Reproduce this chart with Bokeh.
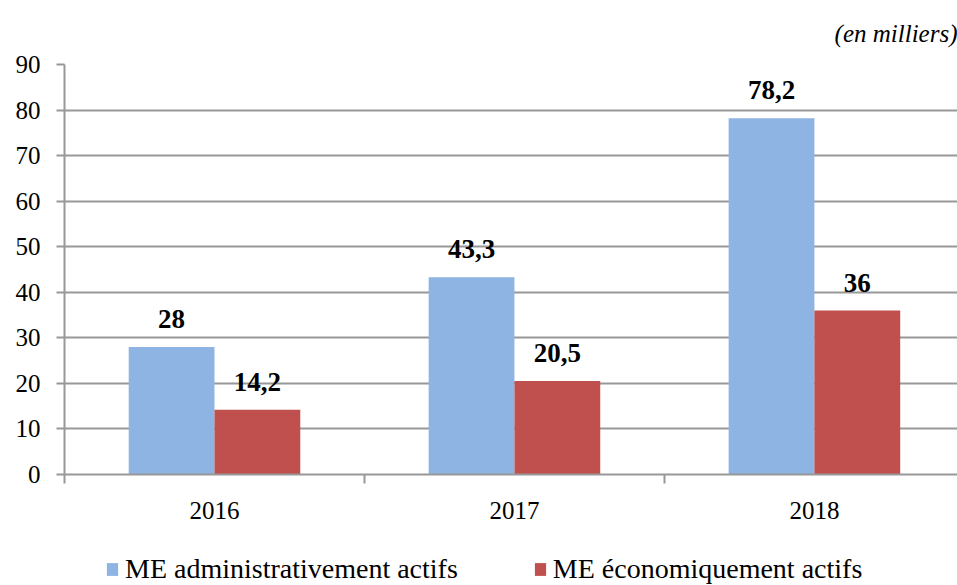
from bokeh.plotting import figure
from bokeh.layouts import column
from bokeh.models import ColumnDataSource, FixedTicker, Legend, LegendItem, LabelSet
from bokeh.embed import file_html
from bokeh.resources import INLINE

years = ["2016", "2017", "2018"]
admin_actifs = [28, 43.3, 78.2]
eco_actifs = [14.2, 20.5, 36]
admin_labels = ["28", "43,3", "78,2"]
eco_labels = ["14,2", "20,5", "36"]
y_ticks = [0, 10, 20, 30, 40, 50, 60, 70, 80, 90]
series_names = ["ME administrativement actifs", "ME économiquement actifs"]
unit_note = "(en milliers)"

FONT = "Liberation Serif"
GRID = "#989898"
BLUE = "#8EB4E3"
RED = "#C0504D"

bar_w = 0.286
centers = [i + 0.5 for i in range(len(years))]
x_admin = [c - bar_w / 2 for c in centers]
x_eco = [c + bar_w / 2 for c in centers]

src_a = ColumnDataSource(dict(x=x_admin, top=admin_actifs, lab=admin_labels))
src_e = ColumnDataSource(dict(x=x_eco, top=eco_actifs, lab=eco_labels))

p = figure(width=957, height=540, output_backend="svg", toolbar_location=None,
           x_range=(0, 2.977), y_range=(0, 90),
           min_border_left=64, min_border_right=0, min_border_top=63, min_border_bottom=66,
           title=unit_note, title_location="above")
p.outline_line_color = None
p.background_fill_color = "white"
p.title.align = "right"
p.title.text_font = FONT
p.title.text_font_size = "25px"
p.title.text_font_style = "italic"
p.title.text_color = "black"
p.title.offset = 0
p.title.standoff = 35

p.vbar(x="x", top="top", width=bar_w, source=src_a, color=BLUE, line_color=None)
p.vbar(x="x", top="top", width=bar_w, source=src_e, color=RED, line_color=None)

for src in (src_a, src_e):
    p.add_layout(LabelSet(x="x", y="top", text="lab", source=src, text_align="center",
                          text_baseline="bottom", y_offset=19, text_font=FONT,
                          text_font_size="27px", text_font_style="bold", text_color="black"))

# y axis
p.yaxis.ticker = FixedTicker(ticks=y_ticks)
p.yaxis.axis_line_color = GRID
p.yaxis.axis_line_width = 2
p.yaxis.major_tick_line_color = GRID
p.yaxis.major_tick_line_width = 2
p.yaxis.major_tick_out = 8
p.yaxis.major_tick_in = 0
p.yaxis.minor_tick_line_color = None
p.yaxis.major_label_text_font = FONT
p.yaxis.major_label_text_font_size = "25px"
p.yaxis.major_label_text_color = "black"
p.yaxis.major_label_standoff = 16

# x axis
p.xaxis.ticker = FixedTicker(ticks=centers, minor_ticks=[0, 1, 2, 3])
p.xaxis.major_label_overrides = {c: y for c, y in zip(centers, years)}
p.xaxis.axis_line_color = GRID
p.xaxis.axis_line_width = 2
p.xaxis.major_tick_line_color = None
p.xaxis.major_tick_out = 0
p.xaxis.major_tick_in = 0
p.xaxis.minor_tick_line_color = GRID
p.xaxis.minor_tick_line_width = 2
p.xaxis.minor_tick_out = 9
p.xaxis.minor_tick_in = 0
p.xaxis.major_label_text_font = FONT
p.xaxis.major_label_text_font_size = "25px"
p.xaxis.major_label_text_color = "black"
p.xaxis.major_label_standoff = 18

p.xgrid.grid_line_color = None
p.ygrid.grid_line_color = GRID
p.ygrid.grid_line_width = 2
p.ygrid.ticker = FixedTicker(ticks=y_ticks)

# legend strip (same series sources, bars kept out of its view)
lg = figure(width=957, height=45, output_backend="svg", toolbar_location=None,
            x_axis_type=None, y_axis_type=None, x_range=(-20, -19), y_range=(0, 1),
            min_border=0)
lg.outline_line_color = None
lg.xgrid.grid_line_color = None
lg.ygrid.grid_line_color = None
la = lg.vbar(x="x", top="top", width=bar_w, source=src_a, color=BLUE, line_color=None)
le = lg.vbar(x="x", top="top", width=bar_w, source=src_e, color=RED, line_color=None)
legend = Legend(items=[LegendItem(label=series_names[0], renderers=[la]),
                       LegendItem(label=series_names[1], renderers=[le])],
                orientation="horizontal", location=(41, 0),
                label_text_font=FONT, label_text_font_size="28px", label_text_color="black",
                glyph_width=14, glyph_height=16, spacing=75, label_standoff=6,
                border_line_alpha=0, background_fill_alpha=0, padding=0, margin=0)
lg.add_layout(legend, "center")

open("out.html", "w").write(file_html(column(p, lg), INLINE))
